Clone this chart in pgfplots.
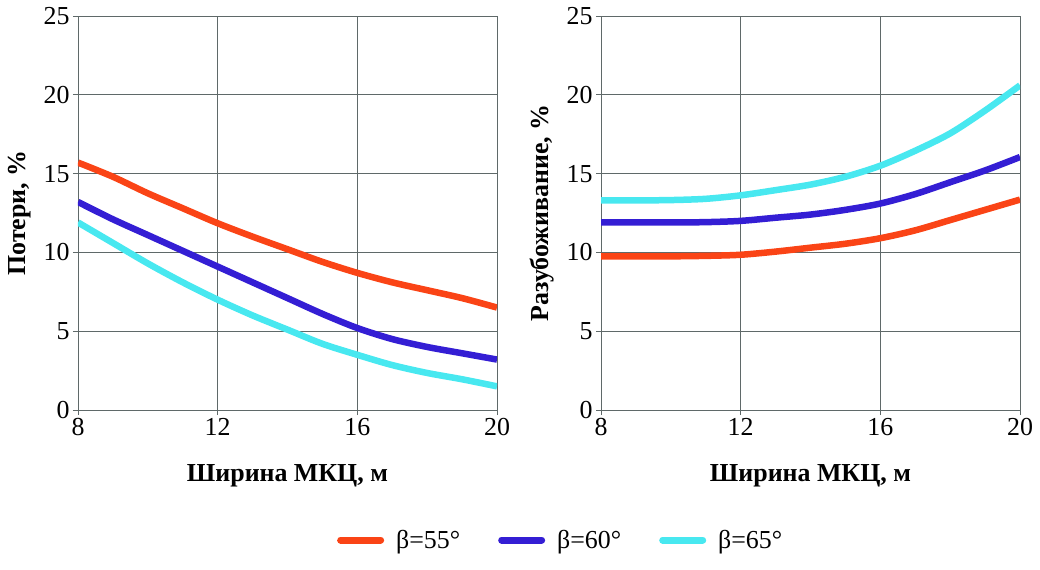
\documentclass[border=0pt]{standalone}
\usepackage{pgfplots}
\pgfplotsset{compat=1.18}
\usepackage{fontspec}
\setmainfont{Liberation Serif}
\definecolor{corange}{RGB}{250,68,22}
\definecolor{cblue}{RGB}{52,30,212}
\definecolor{ccyan}{RGB}{72,232,240}
\definecolor{cgrid}{RGB}{95,105,105}
\pgfplotsset{
  myaxis/.style={
    scale only axis, width=419bp, height=394bp,
    xmin=8, xmax=20, ymin=0, ymax=25,
    xtick={8,12,16,20}, ytick={0,5,10,15,20,25},
    grid=major, grid style={cgrid, line width=0.9bp},
    axis line style={cgrid, line width=0.9bp},
    tick style={cgrid, line width=0.9bp},
    tick align=outside, major tick length=5bp,
    xtick pos=bottom, ytick pos=left,
    /pgf/number format/assume math mode=true,
    tick label style={font=\fontsize{26}{28}\selectfont, black},
    label style={font=\fontsize{26}{28}\selectfont\bfseries},
    xlabel style={at={(axis description cs:0.5,-0.168)}, anchor=center},
    ylabel style={at={(axis description cs:-0.14,0.5)}, anchor=center},
    every axis plot/.append style={line width=6.5bp, smooth, no markers},
    legend image code/.code={\draw[#1, line width=7bp, line cap=round] (0bp,0bp) -- (40bp,0bp);},
  }
}
\begin{document}
\begin{tikzpicture}
\path[use as bounding box] (-78bp,-160bp) rectangle (962bp,410bp);
\begin{axis}[myaxis,
  xlabel={Ширина МКЦ, м}, ylabel={Потери, \%},
  legend columns=3,
  legend style={at={(axis description cs:1.152,-0.330)}, anchor=center, draw=none, fill=none,
    font=\fontsize{26}{28}\selectfont,
    /tikz/every odd column/.append style={column sep=10bp},
    /tikz/every even column/.append style={column sep=36bp},
    cells={anchor=west}},
]
\addplot[corange] coordinates {(8,15.7) (9,14.8) (10,13.75) (11,12.8) (12,11.85) (13,11.0) (14,10.2) (15,9.4) (16,8.7) (17,8.1) (18,7.6) (19,7.1) (20,6.5)};
\addlegendentry{β=55°}
\addplot[cblue] coordinates {(8,13.2) (9,12.1) (10,11.1) (11,10.1) (12,9.1) (13,8.1) (14,7.1) (15,6.1) (16,5.2) (17,4.5) (18,4.0) (19,3.6) (20,3.2)};
\addlegendentry{β=60°}
\addplot[ccyan] coordinates {(8,11.9) (9,10.6) (10,9.3) (11,8.1) (12,7.0) (13,6.0) (14,5.1) (15,4.2) (16,3.5) (17,2.85) (18,2.35) (19,1.95) (20,1.5)};
\addlegendentry{β=65°}
\end{axis}
\begin{axis}[myaxis, xshift=523bp,
  xlabel={Ширина МКЦ, м}, ylabel={Разубоживание, \%},
]
\addplot[corange] coordinates {(8,9.75) (9,9.75) (10,9.75) (11,9.78) (12,9.85) (13,10.05) (14,10.3) (15,10.55) (16,10.9) (17,11.4) (18,12.05) (19,12.7) (20,13.35)};
\addplot[cblue] coordinates {(8,11.9) (9,11.9) (10,11.9) (11,11.92) (12,12.0) (13,12.2) (14,12.4) (15,12.7) (16,13.1) (17,13.7) (18,14.45) (19,15.2) (20,16.05)};
\addplot[ccyan] coordinates {(8,13.3) (9,13.3) (10,13.32) (11,13.4) (12,13.62) (13,13.95) (14,14.3) (15,14.8) (16,15.5) (17,16.45) (18,17.55) (19,19.0) (20,20.6)};
\end{axis}
\end{tikzpicture}
\end{document}
